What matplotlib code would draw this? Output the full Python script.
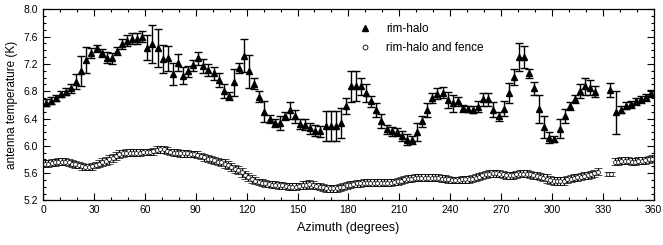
import numpy as np
import matplotlib
matplotlib.use("Agg")
import matplotlib.pyplot as plt
from matplotlib.lines import Line2D
from matplotlib.ticker import MultipleLocator, FormatStrFormatter

plt.rcParams['font.family'] = ['Liberation Sans', 'DejaVu Sans']

# rim-halo: 3 degree bins
halo_az = np.arange(1.5, 360, 3)
halo_t = [6.63, 6.66, 6.70, 6.76, 6.79, 6.84, 6.94, 7.10, 7.26, 7.36,
          7.43, 7.36, 7.29, 7.28, 7.39, 7.49, 7.54, 7.57, 7.57, 7.60,
          7.44, 7.49, 7.43, 7.27, 7.28, 7.05, 7.22, 7.03, 7.09, 7.18,
          7.28, 7.17, 7.11, 7.06, 6.96, 6.80, 6.73, 6.93, 7.14, 7.32,
          7.09, 6.91, 6.72, 6.50, 6.39, 6.33, 6.33, 6.44, 6.52, 6.43,
          6.32, 6.31, 6.26, 6.22, 6.21, 6.29, 6.29, 6.29, 6.33, 6.58,
          6.87, 6.87, 6.87, 6.77, 6.65, 6.52, 6.36, 6.24, 6.21, 6.20,
          6.14, 6.09, 6.09, 6.20, 6.36, 6.52, 6.70, 6.76, 6.78, 6.67,
          6.62, 6.65, 6.55, 6.54, 6.53, 6.57, 6.68, 6.68, 6.53, 6.43,
          6.54, 6.77, 7.01, 7.30, 7.30, 7.06, 6.84, 6.54, 6.28, 6.12,
          6.10, 6.25, 6.44, 6.58, 6.69, 6.80, 6.87, 6.85, 6.79, np.nan,
          np.nan, 6.82, 6.49, 6.53, 6.59, 6.61, 6.65, 6.68, 6.71, 6.77]
halo_err = [0.05, 0.05, 0.05, 0.05, 0.05, 0.06, 0.11, 0.22, 0.19, 0.08,
            0.05, 0.06, 0.08, 0.08, 0.06, 0.07, 0.08, 0.08, 0.08, 0.08,
            0.19, 0.28, 0.28, 0.20, 0.18, 0.16, 0.12, 0.12, 0.08, 0.08,
            0.10, 0.10, 0.09, 0.10, 0.10, 0.10, 0.06, 0.20, 0.07, 0.24,
            0.24, 0.08, 0.08, 0.15, 0.06, 0.06, 0.10, 0.06, 0.12, 0.10,
            0.08, 0.08, 0.08, 0.08, 0.08, 0.22, 0.22, 0.22, 0.22, 0.12,
            0.23, 0.22, 0.13, 0.13, 0.08, 0.10, 0.10, 0.06, 0.06, 0.06,
            0.07, 0.08, 0.06, 0.13, 0.08, 0.10, 0.08, 0.08, 0.08, 0.12,
            0.12, 0.07, 0.05, 0.05, 0.05, 0.08, 0.09, 0.10, 0.11, 0.07,
            0.11, 0.15, 0.12, 0.21, 0.16, 0.07, 0.09, 0.20, 0.16, 0.08,
            0.05, 0.14, 0.10, 0.06, 0.06, 0.10, 0.12, 0.11, 0.08, np.nan,
            np.nan, 0.10, 0.32, 0.05, 0.05, 0.05, 0.05, 0.05, 0.05, 0.05]

# rim-halo and fence: 2 degree bins
fence_az = np.arange(1, 360, 2)
fence_t = [5.74, 5.74, 5.75, 5.76, 5.77, 5.77, 5.77, 5.76, 5.74, 5.73,
           5.72, 5.70, 5.69, 5.69, 5.70, 5.72, 5.74, 5.76, 5.78, 5.80,
           5.82, 5.85, 5.88, 5.89, 5.90, 5.90, 5.90, 5.90, 5.90, 5.91,
           5.91, 5.91, 5.92, 5.94, 5.95, 5.95, 5.93, 5.91, 5.90, 5.90,
           5.89, 5.89, 5.89, 5.88, 5.88, 5.87, 5.85, 5.83, 5.81, 5.80,
           5.79, 5.77, 5.76, 5.74, 5.72, 5.69, 5.66, 5.64, 5.61, 5.57,
           5.54, 5.51, 5.49, 5.47, 5.46, 5.45, 5.44, 5.43, 5.43, 5.42,
           5.42, 5.41, 5.40, 5.40, 5.40, 5.41, 5.42, 5.43, 5.44, 5.43,
           5.41, 5.40, 5.39, 5.38, 5.38, 5.38, 5.38, 5.39, 5.40, 5.42,
           5.43, 5.44, 5.45, 5.45, 5.46, 5.46, 5.46, 5.46, 5.46, 5.46,
           5.46, 5.46, 5.46, 5.47, 5.48, 5.49, 5.51, 5.52, 5.52, 5.53,
           5.53, 5.53, 5.53, 5.53, 5.53, 5.53, 5.53, 5.52, 5.52, 5.51,
           5.50, 5.50, 5.50, 5.51, 5.51, 5.51, 5.52, 5.53, 5.55, 5.57,
           5.58, 5.59, 5.60, 5.60, 5.59, 5.58, 5.57, 5.57, 5.57, 5.58,
           5.59, 5.59, 5.59, 5.58, 5.57, 5.56, 5.55, 5.53, 5.52, 5.50,
           5.49, 5.48, 5.48, 5.49, 5.51, 5.52, 5.53, 5.54, 5.55, 5.56,
           5.57, 5.58, 5.60, 5.62, np.nan, np.nan, 5.59, 5.59, 5.77, 5.77,
           5.78, 5.78, 5.78, 5.77, 5.77, 5.78, 5.78, 5.79, 5.80, 5.81]
fence_err = [0.05, 0.05, 0.05, 0.05, 0.05, 0.05, 0.05, 0.05, 0.05, 0.05,
             0.05, 0.05, 0.05, 0.05, 0.05, 0.05, 0.05, 0.06, 0.06, 0.06,
             0.06, 0.06, 0.06, 0.05, 0.05, 0.05, 0.05, 0.05, 0.05, 0.05,
             0.05, 0.05, 0.05, 0.05, 0.05, 0.05, 0.05, 0.05, 0.05, 0.05,
             0.05, 0.05, 0.05, 0.05, 0.05, 0.05, 0.05, 0.05, 0.05, 0.05,
             0.05, 0.05, 0.05, 0.06, 0.06, 0.06, 0.06, 0.06, 0.06, 0.06,
             0.06, 0.06, 0.05, 0.05, 0.05, 0.05, 0.05, 0.05, 0.05, 0.05,
             0.05, 0.05, 0.05, 0.05, 0.05, 0.05, 0.06, 0.06, 0.06, 0.06,
             0.05, 0.05, 0.05, 0.05, 0.05, 0.05, 0.05, 0.05, 0.05, 0.05,
             0.05, 0.05, 0.05, 0.05, 0.05, 0.05, 0.05, 0.05, 0.05, 0.05,
             0.05, 0.05, 0.05, 0.05, 0.05, 0.05, 0.05, 0.05, 0.05, 0.05,
             0.05, 0.05, 0.05, 0.05, 0.05, 0.05, 0.05, 0.05, 0.05, 0.05,
             0.05, 0.05, 0.05, 0.05, 0.05, 0.05, 0.05, 0.05, 0.05, 0.05,
             0.05, 0.05, 0.05, 0.05, 0.05, 0.05, 0.05, 0.05, 0.05, 0.05,
             0.05, 0.05, 0.05, 0.05, 0.05, 0.05, 0.05, 0.05, 0.06, 0.06,
             0.06, 0.06, 0.06, 0.06, 0.05, 0.05, 0.05, 0.05, 0.05, 0.05,
             0.05, 0.05, 0.05, 0.05, np.nan, np.nan, 0.03, 0.03, 0.05, 0.05,
             0.05, 0.05, 0.05, 0.05, 0.05, 0.05, 0.05, 0.05, 0.05, 0.05]

fig = plt.figure(figsize=(6.63, 2.45), dpi=100)
ax = fig.add_axes([0.065, 0.182, 0.921, 0.780])

ax.errorbar(halo_az, halo_t, yerr=halo_err, fmt='^', color='black',
            ms=4.4, elinewidth=1.0, capsize=3.2, capthick=1.0)
ax.errorbar(fence_az, fence_t, yerr=fence_err, fmt='o', color='black',
            mfc='white', mec='black', mew=0.5, ms=2.8,
            elinewidth=0.9, capsize=2.6, capthick=1.0)

ax.set_xlim(0, 360)
ax.set_ylim(5.2, 8.0)
ax.xaxis.set_major_locator(MultipleLocator(30))
ax.xaxis.set_minor_locator(MultipleLocator(10))
ax.yaxis.set_major_locator(MultipleLocator(0.4))
ax.yaxis.set_minor_locator(MultipleLocator(0.1))
ax.yaxis.set_major_formatter(FormatStrFormatter('%.1f'))
ax.tick_params(which='both', direction='in', top=True, right=True,
               labelsize=7.5, width=0.8)
ax.tick_params(which='major', length=5)
ax.tick_params(which='minor', length=2.5)
for s in ax.spines.values():
    s.set_linewidth(0.9)

ax.set_xlabel('Azimuth (degrees)', fontsize=9, labelpad=5)
ax.set_ylabel('antenna temperature (K)', fontsize=8.5, labelpad=4)

handles = [Line2D([], [], marker='^', ls='', color='black', ms=4.5),
           Line2D([], [], marker='o', ls='', mfc='white', mec='black',
                  mew=0.6, ms=3.5)]
ax.legend(handles, ['rim-halo', 'rim-halo and fence'], frameon=False,
          loc='upper left', bbox_to_anchor=(0.49, 0.985), fontsize=8.5,
          handletextpad=0.8, labelspacing=0.6)

fig.savefig('out.png', dpi=100)
